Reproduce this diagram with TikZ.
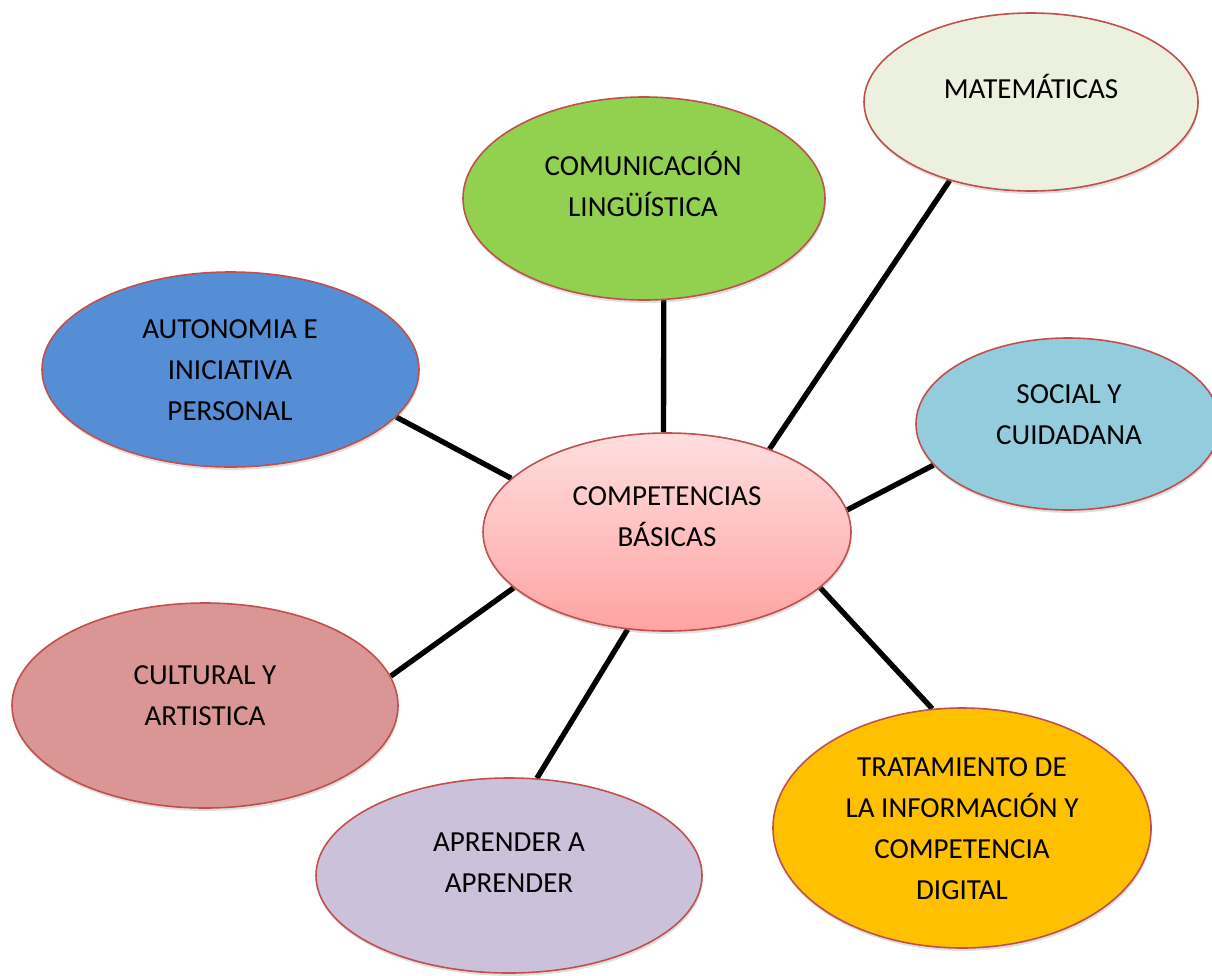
\documentclass[tikz,border=0pt]{standalone}
\usepackage{fontspec}
\setmainfont{Carlito}
\usepackage{xcolor}
\usepackage{tikz}
\usetikzlibrary{shapes.geometric,shadows,backgrounds}

\begin{document}
\begin{tikzpicture}[x = {(0.75pt,0pt)},
                    y = {(0pt,-0.75pt)},
                    scale = 1]

  \useasboundingbox (0,0) rectangle (1212,975);


  % COLORS
  \definecolor{edgecolor_oval}{rgb}{ 0.7529,0.3137,0.3020 }
  \definecolor{topcolor_cb}{rgb}{ 1,0.8706,0.8706 }
  \definecolor{bottomcolor_cb}{rgb}{ 1,0.6392,0.6392 }
  \definecolor{facetcolor_com}{rgb}{ 0.5725,0.8157,0.3137 }
  \definecolor{facetcolor_mat}{rgb}{ 0.9216,0.9451,0.8706 }
  \definecolor{facetcolor_aut}{rgb}{ 0.3333,0.5569,0.8353 }
  \definecolor{facetcolor_soc}{rgb}{ 0.5765,0.8039,0.8667 }
  \definecolor{facetcolor_cul}{rgb}{ 0.8510,0.5882,0.5804 }
  \definecolor{facetcolor_apr}{rgb}{ 0.8,0.7569,0.8549 }
  \definecolor{facetcolor_tra}{rgb}{ 1,0.7529,0 }


  % STYLES
  \tikzstyle{ovalstyle} = [ellipse, draw=edgecolor_oval, line width=1.2pt, inner sep=0pt, drop shadow={shadow xshift=0.6pt, shadow yshift=-2.2pt, opacity=0.25}]
  \tikzstyle{textstyle} = [align=center, font=\fontsize{21.8}{30.75}\selectfont, inner sep=0pt]
  \tikzstyle{linkstyle} = [draw=black, line width=4pt]


  % OVALS
  \node[ovalstyle, top color=topcolor_cb, bottom color=bottomcolor_cb, minimum width=276pt, minimum height=148.5pt] (oval_cb) at (667,532) {};
  \node[ovalstyle, fill=facetcolor_com, minimum width=271.5pt, minimum height=152.25pt] (oval_com) at (644,198.5) {};
  \node[ovalstyle, fill=facetcolor_mat, minimum width=250.5pt, minimum height=133.5pt] (oval_mat) at (1031,102) {};
  \node[ovalstyle, fill=facetcolor_aut, minimum width=282.75pt, minimum height=146.25pt] (oval_aut) at (230.5,369.5) {};
  \node[ovalstyle, fill=facetcolor_soc, minimum width=228pt, minimum height=129pt] (oval_soc) at (1068,424) {};
  \node[ovalstyle, fill=facetcolor_cul, minimum width=289.5pt, minimum height=153.75pt] (oval_cul) at (205,705.5) {};
  \node[ovalstyle, fill=facetcolor_apr, minimum width=289.5pt, minimum height=146.25pt] (oval_apr) at (509,875.5) {};
  \node[ovalstyle, fill=facetcolor_tra, minimum width=283.5pt, minimum height=180pt] (oval_tra) at (962,828) {};


  % TEXTS
  \node[textstyle] (text_cb) at (667,516.5) {COMPETENCIAS\\BÁSICAS};
  \node[textstyle] (text_com) at (643,184) {COMUNICACIÓN\\LINGÜÍSTICA};
  \node[textstyle] (text_mat) at (1031,86.5) {MATEMÁTICAS};
  \node[textstyle] (text_aut) at (230,370) {AUTONOMIA E\\INICIATIVA\\PERSONAL};
  \node[textstyle] (text_soc) at (1069,414.5) {SOCIAL Y\\CUIDADANA};
  \node[textstyle] (text_cul) at (205,696) {CULTURAL Y\\ARTISTICA};
  \node[textstyle] (text_apr) at (509,862.5) {APRENDER A\\APRENDER};
  \node[textstyle] (text_tra) at (962,828.5) {TRATAMIENTO DE\\LA INFORMACIÓN Y\\COMPETENCIA\\DIGITAL};


  % LINKS
  \begin{scope}[on background layer]
    \draw[linkstyle] (oval_cb.92) -- (oval_com.-79);
    \draw[linkstyle] (oval_cb.39) -- (oval_mat.224);
    \draw[linkstyle] (oval_cb.161) -- (oval_aut.-16);
    \draw[linkstyle] (oval_cb.7) -- (oval_soc.197);
    \draw[linkstyle] (oval_cb.200) -- (oval_cul.9);
    \draw[linkstyle] (oval_cb.248) -- (oval_apr.74);
    \draw[linkstyle] (oval_cb.-20) -- (oval_tra.104);
  \end{scope}

\end{tikzpicture}
\end{document}
